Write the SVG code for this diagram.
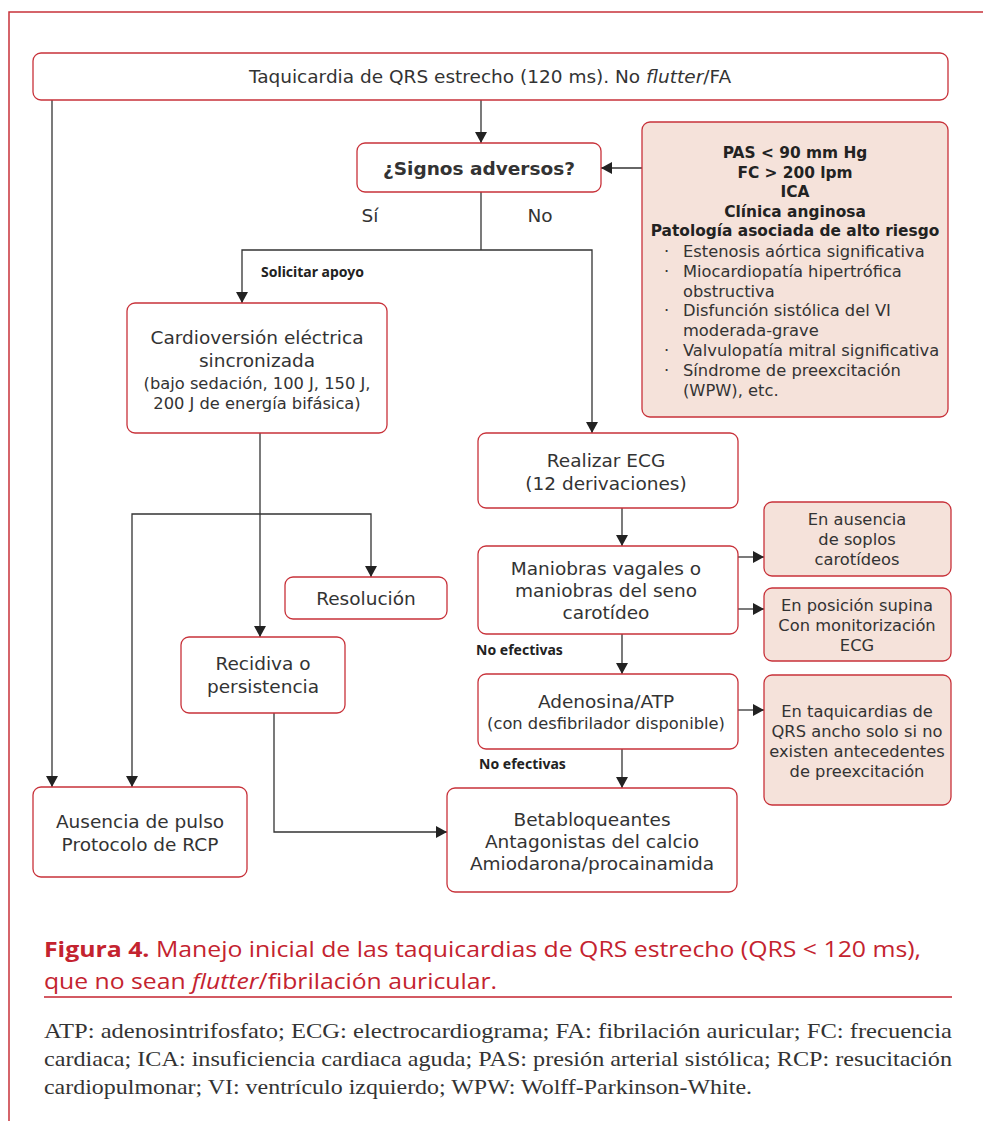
<svg xmlns="http://www.w3.org/2000/svg" width="983" height="1121" viewBox="0 0 983 1121">
<style>
.box{fill:#fff;stroke:#c8323a;stroke-width:1.3}
.pink{fill:#f5e2da;stroke:#c8323a;stroke-width:1.3}
.t{font-family:"DejaVu Sans","Noto Sans",sans-serif;font-size:18.5px;fill:#333;text-anchor:middle}
.s{font-family:"DejaVu Sans","Noto Sans",sans-serif;font-size:16.3px;fill:#333;text-anchor:middle}
.p{font-family:"DejaVu Sans","Noto Sans",sans-serif;font-size:16.3px;fill:#333}
.b{font-family:"DejaVu Sans","Noto Sans",sans-serif;font-size:15.4px;font-weight:bold;fill:#222}
.lbl{font-family:"Noto Sans","Open Sans",sans-serif;font-size:14px;font-weight:bold;fill:#222}
.c line,.c path,.c polyline{stroke:#333;stroke-width:1.3;fill:none;marker-end:url(#ah)}
.cap{font-family:"Open Sans","Noto Sans",sans-serif;font-size:22px;fill:#c4232f}
.fn{font-family:"Liberation Serif","Times New Roman",serif;font-size:22px;fill:#333}
</style>
<defs>
<marker id="ah" markerUnits="userSpaceOnUse" markerWidth="12" markerHeight="12" refX="11" refY="6" orient="auto">
<path d="M0,0 L11,6 L0,12 z" fill="#222"/>
</marker>
</defs>
<rect width="983" height="1121" fill="#fff"/>
<path d="M9,1121 V12 H983" fill="none" stroke="#c8323a" stroke-width="1.5"/>

<g class="c" id="connectors">
<line x1="52" y1="100" x2="52" y2="787"/>
<line x1="481" y1="100" x2="481" y2="143"/>
<line x1="642" y1="168" x2="601" y2="168"/>
<line x1="481" y1="192" x2="481" y2="250" style="marker-end:none"/>
<polyline points="481,250 242,250 242,303"/>
<polyline points="481,250 592,250 592,433"/>
<line x1="260" y1="433" x2="260" y2="637"/>
<polyline points="260,514 132,514 132,787"/>
<polyline points="260,514 371,514 371,577"/>
<polyline points="274,713 274,832 447,832"/>
<line x1="622" y1="508" x2="622" y2="546"/>
<line x1="738" y1="557" x2="764" y2="557"/>
<line x1="738" y1="609" x2="764" y2="609"/>
<line x1="622" y1="634" x2="622" y2="674"/>
<line x1="738" y1="710" x2="764" y2="710"/>
<line x1="622" y1="749" x2="622" y2="788"/>
</g>

<g id="n-top">
<rect class="box" x="33" y="53" width="915" height="47" rx="8"/>
<text class="t" x="490" y="83">Taquicardia de QRS estrecho (120 ms). No <tspan font-style="italic">flutter</tspan>/FA</text>
</g>
<g id="n-signos">
<rect class="box" x="357" y="143" width="244" height="49" rx="8"/>
<text class="t" x="479" y="175" font-weight="bold" font-size="18" fill="#222">¿Signos adversos?</text>
</g>
<text class="t" x="370" y="222">Sí</text>
<text class="t" x="540" y="222">No</text>
<text class="lbl" x="261" y="277">Solicitar apoyo</text>

<g id="n-adversos">
<rect class="pink" x="642" y="122" width="306" height="295" rx="8"/>
<text class="b" x="795" y="158" text-anchor="middle">PAS &lt; 90 mm Hg</text>
<text class="b" x="795" y="178" text-anchor="middle">FC &gt; 200 lpm</text>
<text class="b" x="795" y="197" text-anchor="middle">ICA</text>
<text class="b" x="795" y="217" text-anchor="middle">Clínica anginosa</text>
<text class="b" x="795" y="236" text-anchor="middle">Patología asociada de alto riesgo</text>
<text class="p" x="664" y="257">·</text><text class="p" x="683" y="257">Estenosis aórtica significativa</text>
<text class="p" x="664" y="277">·</text><text class="p" x="683" y="277">Miocardiopatía hipertrófica</text>
<text class="p" x="683" y="297">obstructiva</text>
<text class="p" x="664" y="316">·</text><text class="p" x="683" y="316">Disfunción sistólica del VI</text>
<text class="p" x="683" y="336">moderada-grave</text>
<text class="p" x="664" y="356">·</text><text class="p" x="683" y="356">Valvulopatía mitral significativa</text>
<text class="p" x="664" y="376">·</text><text class="p" x="683" y="376">Síndrome de preexcitación</text>
<text class="p" x="683" y="396">(WPW), etc.</text>
</g>

<g id="n-cardioversion">
<rect class="box" x="127" y="303" width="260" height="130" rx="8"/>
<text class="t" x="257" y="344">Cardioversión eléctrica</text>
<text class="t" x="257" y="367">sincronizada</text>
<text class="s" x="257" y="389">(bajo sedación, 100 J, 150 J,</text>
<text class="s" x="257" y="409">200 J de energía bifásica)</text>
</g>
<g id="n-resolucion">
<rect class="box" x="285" y="577" width="162" height="42" rx="8"/>
<text class="t" x="366" y="605">Resolución</text>
</g>
<g id="n-recidiva">
<rect class="box" x="181" y="637" width="164" height="76" rx="8"/>
<text class="t" x="263" y="670">Recidiva o</text>
<text class="t" x="263" y="693">persistencia</text>
</g>
<g id="n-ausencia">
<rect class="box" x="33" y="787" width="214" height="90" rx="8"/>
<text class="t" x="140" y="828">Ausencia de pulso</text>
<text class="t" x="140" y="851">Protocolo de RCP</text>
</g>
<g id="n-ecg">
<rect class="box" x="478" y="433" width="260" height="75" rx="8"/>
<text class="t" x="606" y="467">Realizar ECG</text>
<text class="t" x="606" y="490">(12 derivaciones)</text>
</g>
<g id="n-maniobras">
<rect class="box" x="478" y="546" width="260" height="88" rx="8"/>
<text class="t" x="606" y="575">Maniobras vagales o</text>
<text class="t" x="606" y="597">maniobras del seno</text>
<text class="t" x="606" y="619">carotídeo</text>
</g>
<g id="n-soplos">
<rect class="pink" x="764" y="502" width="187" height="74" rx="8"/>
<text class="s" x="857" y="525">En ausencia</text>
<text class="s" x="857" y="545">de soplos</text>
<text class="s" x="857" y="565">carotídeos</text>
</g>
<g id="n-supina">
<rect class="pink" x="764" y="588" width="187" height="73" rx="8"/>
<text class="s" x="857" y="611">En posición supina</text>
<text class="s" x="857" y="631">Con monitorización</text>
<text class="s" x="857" y="651">ECG</text>
</g>
<text class="lbl" x="476" y="655">No efectivas</text>
<g id="n-adenosina">
<rect class="box" x="478" y="674" width="260" height="75" rx="8"/>
<text class="t" x="606" y="708">Adenosina/ATP</text>
<text class="s" x="606" y="729">(con desfibrilador disponible)</text>
</g>
<g id="n-taqui">
<rect class="pink" x="764" y="675" width="187" height="130" rx="8"/>
<text class="s" x="857" y="717">En taquicardias de</text>
<text class="s" x="857" y="737">QRS ancho solo si no</text>
<text class="s" x="857" y="757">existen antecedentes</text>
<text class="s" x="857" y="777">de preexcitación</text>
</g>
<text class="lbl" x="479" y="769">No efectivas</text>
<g id="n-beta">
<rect class="box" x="447" y="788" width="290" height="104" rx="8"/>
<text class="t" x="592" y="826">Betabloqueantes</text>
<text class="t" x="592" y="848">Antagonistas del calcio</text>
<text class="t" x="592" y="870">Amiodarona/procainamida</text>
</g>

<text class="cap" x="44" y="957" textLength="877" lengthAdjust="spacingAndGlyphs"><tspan font-weight="bold">Figura 4.</tspan> Manejo inicial de las taquicardias de QRS estrecho (QRS &lt; 120 ms),</text>
<text class="cap" x="44" y="989" textLength="453" lengthAdjust="spacingAndGlyphs">que no sean <tspan font-style="italic">flutter</tspan>/fibrilación auricular.</text>
<line x1="44" y1="997" x2="952" y2="997" stroke="#c4232f" stroke-width="1.3"/>
<text class="fn" x="44" y="1038" textLength="908" lengthAdjust="spacingAndGlyphs">ATP: adenosintrifosfato; ECG: electrocardiograma; FA: fibrilación auricular; FC: frecuencia</text>
<text class="fn" x="44" y="1066" textLength="908" lengthAdjust="spacingAndGlyphs">cardiaca; ICA: insuficiencia cardiaca aguda; PAS: presión arterial sistólica; RCP: resucitación</text>
<text class="fn" x="44" y="1094" textLength="708" lengthAdjust="spacingAndGlyphs">cardiopulmonar; VI: ventrículo izquierdo; WPW: Wolff-Parkinson-White.</text>
</svg>
